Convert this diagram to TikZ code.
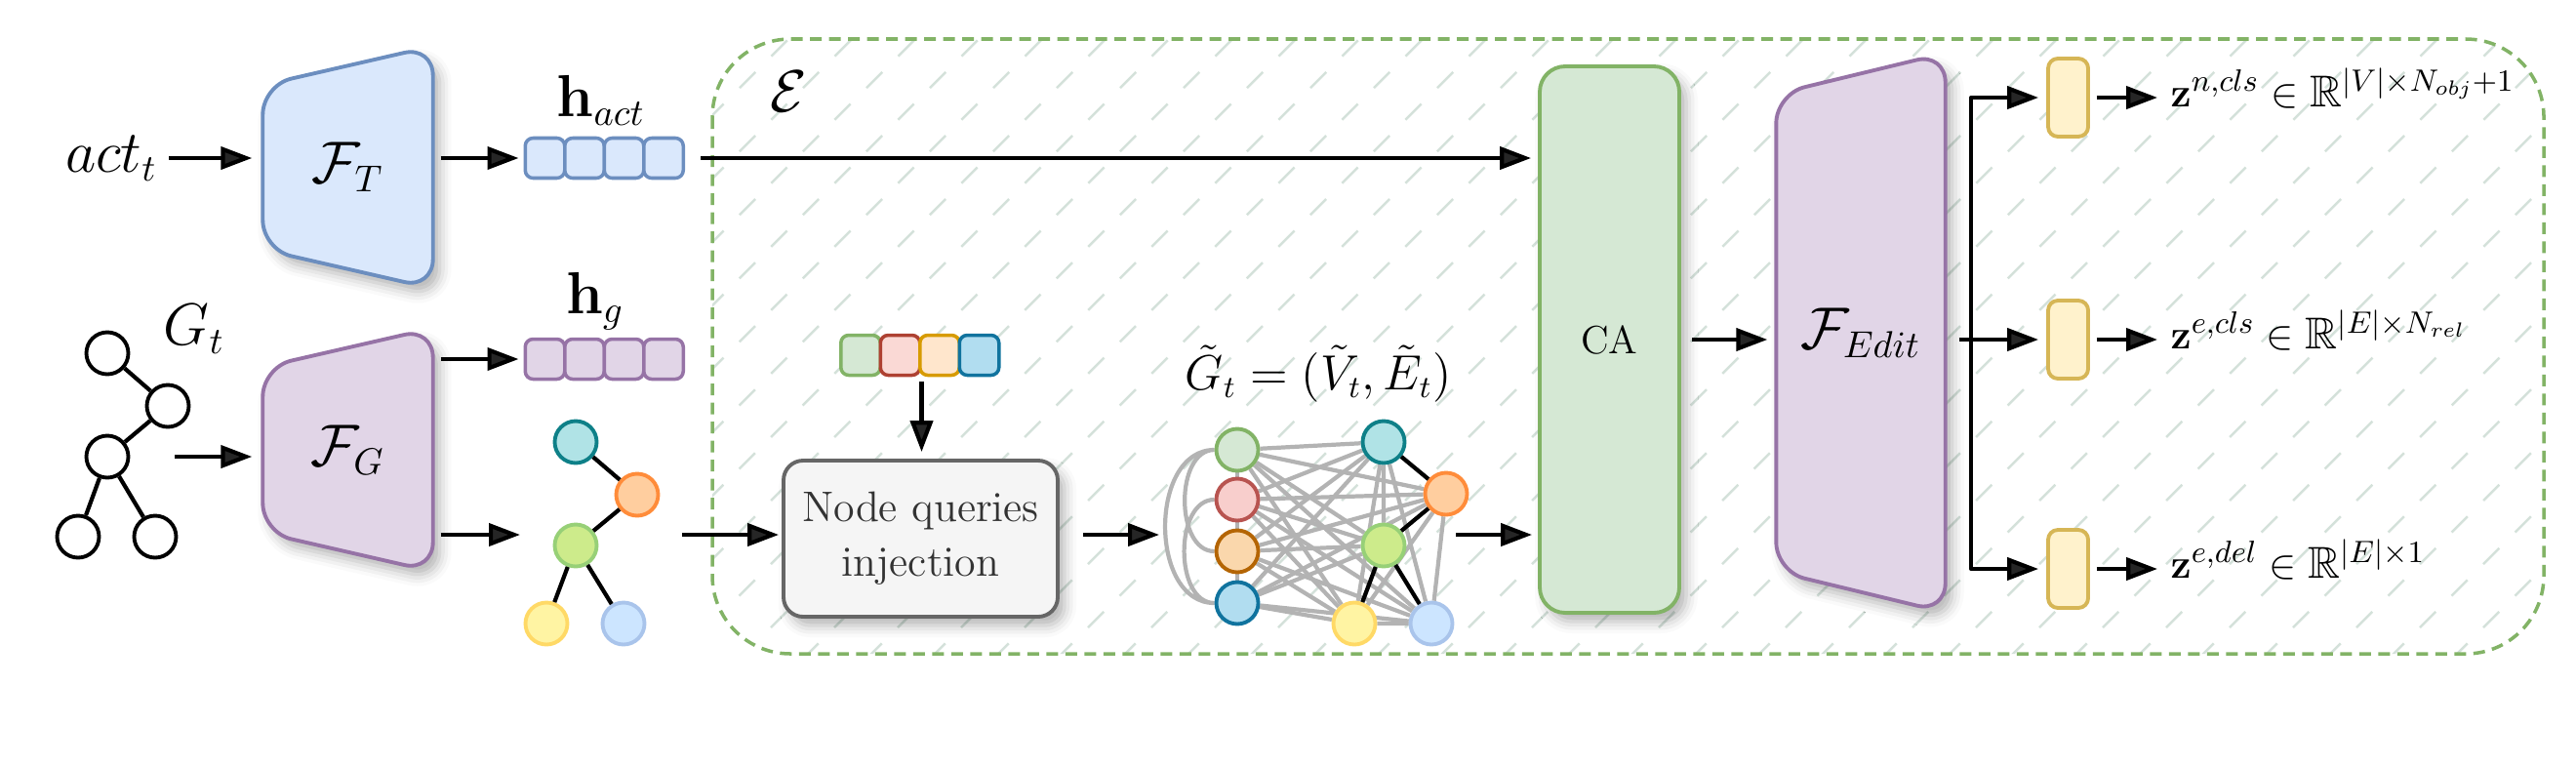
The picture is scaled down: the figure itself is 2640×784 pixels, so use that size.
\documentclass[tikz,border=0pt]{standalone}
\usepackage{amsmath,amssymb}
\usetikzlibrary{arrows.meta,positioning,calc,backgrounds,shadows.blur}

\definecolor{bluefill}{HTML}{DAE8FC}
\definecolor{blueline}{HTML}{6C8EBF}
\definecolor{purpfill}{HTML}{E1D5E7}
\definecolor{purpline}{HTML}{9673A6}
\definecolor{greenfill}{HTML}{D5E8D4}
\definecolor{greenline}{HTML}{82B366}
\definecolor{grayfill}{HTML}{F5F5F5}
\definecolor{grayline}{HTML}{666666}
\definecolor{yelfill}{HTML}{FFF2CC}
\definecolor{yelline}{HTML}{D6B656}
\definecolor{hatchcol}{HTML}{D4E1DA}
\definecolor{edgegray}{HTML}{B3B3B3}
\definecolor{textgray}{HTML}{333333}
% query / graph colours
\definecolor{redfill}{HTML}{F8CECC}
\definecolor{redline}{HTML}{B85450}
\definecolor{qredfill}{HTML}{FAD9D5}
\definecolor{qredline}{HTML}{AE4132}
\definecolor{orfill}{HTML}{FAD7AC}
\definecolor{orline}{HTML}{B46504}
\definecolor{qorfill}{HTML}{FFE6CC}
\definecolor{qorline}{HTML}{D79B00}
\definecolor{cyfill}{HTML}{B1DDF0}
\definecolor{cyline}{HTML}{10739E}
\definecolor{tealfill}{HTML}{B0E3E6}
\definecolor{tealline}{HTML}{0E8088}
\definecolor{orangefill}{HTML}{FFCE9F}
\definecolor{orangeline}{HTML}{FF8C3A}
\definecolor{limefill}{HTML}{CDEB8B}
\definecolor{limeline}{HTML}{97D077}
\definecolor{lemonfill}{HTML}{FFF4A3}
\definecolor{lemonline}{HTML}{FFD966}
\definecolor{skyfill}{HTML}{CCE5FF}
\definecolor{skyline}{HTML}{A9C4EB}

\tikzset{
  arr/.style={-{Triangle[length=3.2mm,width=2.3mm]}, line width=1.2pt},
  cell/.style={draw, rounded corners=0.8mm, minimum width=4.05mm, minimum height=4.1mm, inner sep=0pt, line width=1pt},
  gnode/.style={circle, draw, minimum size=4.3mm, inner sep=0pt, line width=1.1pt},
  trapbox/.style={minimum width=17.3mm, inner sep=0pt},
  softshadow/.style={blur shadow={shadow xshift=0.7mm, shadow yshift=-0.9mm, shadow blur radius=1.2mm, shadow opacity=30}},
  lbl/.style={font=\fontsize{16}{19}\selectfont},
  outlbl/.style={font=\fontsize{13}{16}\selectfont, inner sep=1.3mm, anchor=base west},
  gedge/.style={draw=edgegray, line width=1.2pt},
  hatch/.style={draw=hatchcol, line width=0.7pt, dash pattern=on 2.3mm off 2.3mm, dash phase=1.15mm},
  ebox/.style={draw=greenline, line width=1pt, dash pattern=on 1.2mm off 0.75mm, rounded corners=8mm},
  nqi/.style={draw=grayline, fill=grayfill, rounded corners=2mm, minimum width=28.1mm, minimum height=16mm,
    line width=1.1pt, align=center, text=textgray, font=\fontsize{12.5}{16}\selectfont, softshadow},
  cabox/.style={draw=greenline, fill=greenfill, rounded corners=2.6mm, minimum width=14.3mm, minimum height=56mm,
    line width=1.1pt, font=\fontsize{11.5}{13}\selectfont, softshadow},
  outbox/.style={draw=yelline, fill=yelfill, rounded corners=1mm, minimum width=4.1mm, minimum height=8mm,
    inner sep=0pt, line width=1.1pt},
}

% trapezoid over an empty node: node, drop of the left corners, fill, line
\newcommand\mytrap[4]{
\path[softshadow, fill=#3, draw=#4, line width=1.1pt, rounded corners=3mm]
  ($(#1.north west)+(0,#2)$) -- (#1.north east) -- (#1.south east)
  -- ($(#1.south west)+(0,-#2)$) -- cycle;
}

\begin{document}
\begin{tikzpicture}[x=0.1mm, y=-0.1mm, line join=round]
\useasboundingbox (0,0) rectangle (2640,784);
\node[lbl] (calE) at (808,94) {$\mathcal{E}$};

% text branch
\node[lbl] (act) at (114,162) {$act_t$};
\node[trapbox, minimum height=24.7mm] (FT) at (356.5,171.5) {};
\mytrap{FT}{40}{bluefill}{blueline}
\node[lbl] (FTl) at (FT) {$\mathcal{F}_T$};
\foreach \i in {1,...,4}
  \node[cell, fill=bluefill, draw=blueline] (ha\i) at (518+40.5*\i,162) {};
\node[lbl] (hact) at (616,103) {$\mathbf{h}_{act}$};

% graph branch
\node[lbl] (Gt) at (199,337) {$G_t$};
\node[gnode, fill=white] (t1) at (110,362) {};
\node[gnode, fill=white] (t2) at (172,416) {};
\node[gnode, fill=white] (t3) at (110,468) {};
\node[gnode, fill=white] (t4) at (80,550) {};
\node[gnode, fill=white] (t5) at (159,550) {};
\draw[line width=1.2pt] (t1) -- (t2) -- (t3) (t3) -- (t4) (t3) -- (t5);
\coordinate (tin) at (179,468);

\node[trapbox, minimum height=24.8mm] (FG) at (356.5,461) {};
\mytrap{FG}{40}{purpfill}{purpline}
\node[lbl] (FGl) at (FG) {$\mathcal{F}_G$};
\foreach \i in {1,...,4}
  \node[cell, fill=purpfill, draw=purpline] (hg\i) at (518+40.5*\i,368) {};
\node[lbl] (hg) at (610,309) {$\mathbf{h}_g$};

\node[gnode, fill=tealfill, draw=tealline] (c1) at (590,453) {};
\node[gnode, fill=orangefill, draw=orangeline] (c2) at (653,507) {};
\node[gnode, fill=limefill, draw=limeline] (c3) at (590,559) {};
\node[gnode, fill=lemonfill, draw=lemonline] (c4) at (560,639) {};
\node[gnode, fill=skyfill, draw=skyline] (c5) at (639,639) {};
\draw[line width=1.2pt] (c1) -- (c2) -- (c3) (c3) -- (c4) (c3) -- (c5);
\coordinate (cin) at (533,548);
\coordinate (cout) at (699,548);

% node queries
\node[cell, fill=greenfill, draw=greenline] (q1) at (882,364) {};
\node[cell, fill=qredfill, draw=qredline] (q2) at (922.5,364) {};
\node[cell, fill=qorfill, draw=qorline] (q3) at (963,364) {};
\node[cell, fill=cyfill, draw=cyline] (q4) at (1003.5,364) {};
\node[nqi] (NQI) at (943.5,552) {Node queries\\injection};

% full graph
\node[font=\fontsize{13.5}{16}\selectfont] (Gtil) at (1351,383) {$\tilde{G}_t = (\tilde{V}_t, \tilde{E}_t)$};
\node[gnode, fill=greenfill, draw=greenline] (l1) at (1268,461) {};
\node[gnode, fill=redfill, draw=redline] (l2) at (1268,512) {};
\node[gnode, fill=orfill, draw=orline] (l3) at (1268,565) {};
\node[gnode, fill=cyfill, draw=cyline] (l4) at (1268,618) {};
\node[gnode, fill=tealfill, draw=tealline] (r1) at (1418,453) {};
\node[gnode, fill=orangefill, draw=orangeline] (r2) at (1482,506) {};
\node[gnode, fill=limefill, draw=limeline] (r3) at (1418,559) {};
\node[gnode, fill=lemonfill, draw=lemonline] (r4) at (1388,639) {};
\node[gnode, fill=skyfill, draw=skyline] (r5) at (1467,639) {};
\draw[line width=1.2pt] (r1) -- (r2) -- (r3) -- (r4) (r3) -- (r5);
\coordinate (gin) at (1188,548);
\coordinate (gout) at (1492,548);

% decoder
\node[cabox] (CA) at (1649.5,348) {CA};
\node[trapbox, minimum width=17.2mm, minimum height=57.2mm] (FE) at (1907,341) {};
\mytrap{FE}{42}{purpfill}{purpline}
\node[lbl] (FEl) at (FE) {$\mathcal{F}_{Edit}$};
\node[outbox] (o1) at (2119.5,100) {};
\node[outbox] (o2) at (2119.5,348) {};
\node[outbox] (o3) at (2119.5,583) {};
\coordinate (br) at (2020,348);
\node[outlbl] (z1) at (2211,109) {$\mathbf{z}^{n,cls} \in \mathbb{R}^{|V| \times N_{obj}+1}$};
\node[outlbl] (z2) at (2211,357) {$\mathbf{z}^{e,cls} \in \mathbb{R}^{|E| \times N_{rel}}$};
\node[outlbl] (z3) at (2211,592) {$\mathbf{z}^{e,del} \in \mathbb{R}^{|E| \times 1}$};

% arrows
\draw[arr, shorten >=1.1mm] (act) -- (act -| FT.west);
\draw[arr, shorten <=0.8mm, shorten >=0.5mm] (FT.east |- ha1) -- (ha1);
\draw[arr, shorten <=1.6mm, shorten >=0.7mm] (ha4) -- (ha4 -| CA.west);
\draw[arr, shorten >=1.1mm] (tin) -- (tin -| FG.west);
\draw[arr, shorten <=0.8mm, shorten >=0.5mm] (FG.east |- hg1) -- (hg1);
\draw[arr, shorten <=0.8mm] (FG.east |- cin) -- (cin);
\draw[arr, shorten >=0.3mm] (cout) -- (cout -| NQI.west);
\draw[arr, shorten <=0.5mm, shorten >=0.7mm] (q2.south east) -- (q2.south east |- NQI.north);
\draw[arr, shorten <=2.4mm] (NQI.east |- gin) -- (gin);
\draw[arr, shorten >=0.6mm] (gout) -- (gout -| CA.west);
\draw[arr, shorten <=1.1mm, shorten >=0.9mm] (CA) -- (CA -| FE.west);
\draw[arr, shorten <=1.4mm, shorten >=0.8mm] (FE.east |- o2) -- (o2);
\draw[arr, shorten >=0.8mm] (br) |- (o1);
\draw[arr, shorten >=0.8mm] (br) |- (o3);
\draw[arr, shorten <=0.7mm] (o1) -- (o1 -| z1.west);
\draw[arr, shorten <=0.7mm] (o2) -- (o2 -| z2.west);
\draw[arr, shorten <=0.7mm] (o3) -- (o3 -| z3.west);

% encoder frame, hatching and graph edges, kept behind (after all shadows)
\begin{scope}[on background layer]
\begin{scope}
\clip[rounded corners=8mm] (730,40) rectangle (2607,670);
\foreach \k in {-4,...,36}
  \draw[hatch] (278+65*\k,700) -- ++(700,-700);
\end{scope}
\draw[ebox] (730,40) rectangle (2607,670);
\foreach \a in {1,...,4}
  \foreach \b in {1,...,5}
    \draw[gedge] (l\a) -- (r\b);
\draw[gedge] (l1) -- (l2) -- (l3) -- (l4);
\draw[gedge] (l1) to[out=180,in=180] (l3) (l2) to[out=180,in=180] (l4)
  (l1) to[out=180,in=180,looseness=1.1] (l4);
\draw[gedge] (r1) -- (r3) (r1) -- (r4) (r1) -- (r5) (r2) -- (r4) (r2) -- (r5) (r4) -- (r5);
\end{scope}
\end{tikzpicture}
\end{document}
